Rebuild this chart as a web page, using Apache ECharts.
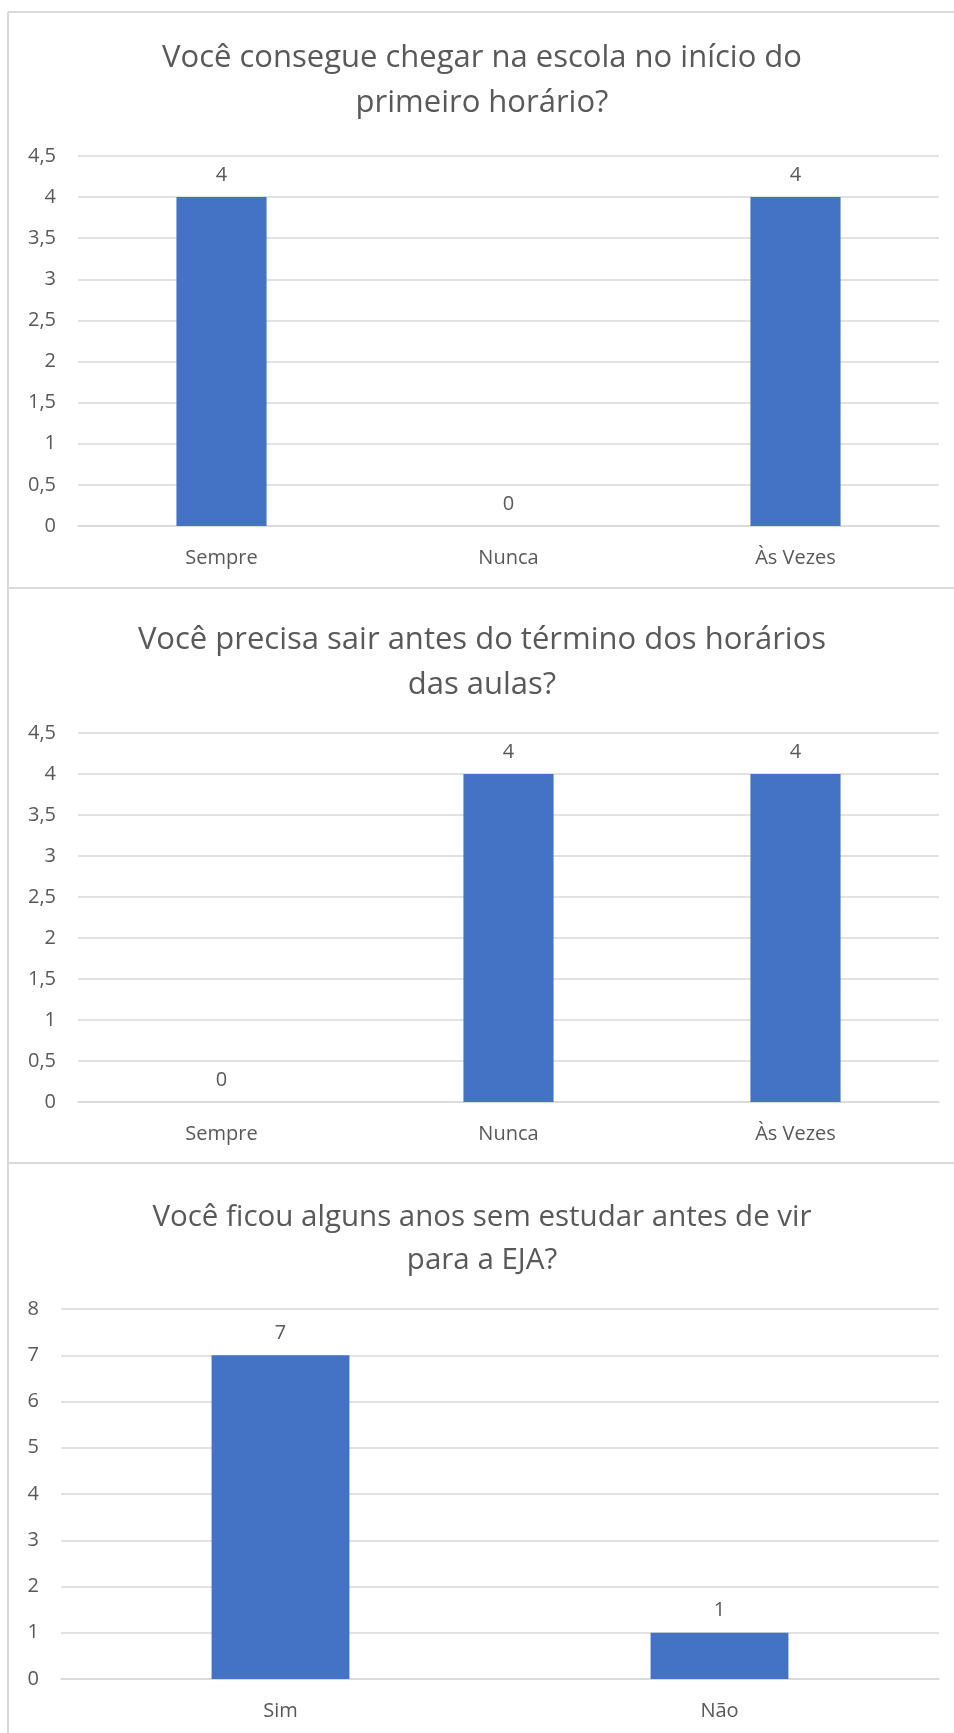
<!DOCTYPE html>
<html>
<head>
<meta charset="utf-8">
<script src="https://cdn.jsdelivr.net/npm/echarts@6/dist/echarts.min.js"></script>
<style>
  html, body { margin: 0; padding: 0; background: #ffffff; }
  #chart { width: 954px; height: 1733px; }
</style>
</head>
<body>
<div id="chart"></div>
<script>
// Survey answers, one bar chart per question
const titleArrival = 'Você consegue chegar na escola no início do\nprimeiro horário?';
const titleLeaving = 'Você precisa sair antes do término dos horários\ndas aulas?';
const titleGap = 'Você ficou alguns anos sem estudar antes de vir\npara a EJA?';

const frequencyCategories = ['Sempre', 'Nunca', 'Às Vezes'];
const arrivalValues = [4, 0, 4];
const leavingValues = [0, 4, 4];

const yesNoCategories = ['Sim', 'Não'];
const gapValues = [7, 1];

const FONT = '"Open Sans", "Noto Sans", sans-serif';
const TEXT = '#595959';
const GRID_LINE = '#d9d9d9';
const BAR = '#4472C4';

const decimalComma = v => String(v).replace('.', ',');

function makeTitle(text, top, size, lineHeight) {
  return {
    text: text,
    left: 477,
    top: top,
    textAlign: 'center',
    textStyle: {
      fontFamily: FONT, fontSize: size, fontWeight: 'normal',
      color: TEXT, lineHeight: lineHeight
    }
  };
}

function makeXAxis(idx, cats) {
  return {
    type: 'category', gridIndex: idx, data: cats,
    axisLine: { show: true, lineStyle: { color: GRID_LINE, width: 1.5 } },
    axisTick: { show: false },
    axisLabel: { fontFamily: FONT, fontSize: 20, color: TEXT, margin: 22 }
  };
}

function makeYAxis(idx, max, interval, fmt) {
  return {
    type: 'value', gridIndex: idx, min: 0, max: max, interval: interval,
    axisLine: { show: false }, axisTick: { show: false },
    splitLine: { lineStyle: { color: GRID_LINE, width: 1.5 } },
    axisLabel: { fontFamily: FONT, fontSize: 20, color: TEXT, margin: 22, formatter: fmt }
  };
}

function makeBars(idx, values) {
  return {
    type: 'bar', xAxisIndex: idx, yAxisIndex: idx, data: values,
    barWidth: '31.4%',
    itemStyle: { color: BAR },
    label: {
      show: true, position: 'top', distance: 12,
      fontFamily: FONT, fontSize: 20, color: TEXT
    }
  };
}

const chart = echarts.init(document.getElementById('chart'), null, { renderer: 'canvas' });

chart.setOption({
  backgroundColor: '#ffffff',
  animation: false,
  title: [
    makeTitle(titleArrival, 31, 31, 45),
    makeTitle(titleLeaving, 613, 31, 45),
    makeTitle(titleGap, 1191, 29.5, 43)
  ],
  grid: [
    { left: 78, right: 15, top: 156, height: 370 },
    { left: 78, right: 15, top: 733, height: 369 },
    { left: 61, right: 15, top: 1309, height: 370 }
  ],
  xAxis: [
    makeXAxis(0, frequencyCategories),
    makeXAxis(1, frequencyCategories),
    makeXAxis(2, yesNoCategories)
  ],
  yAxis: [
    makeYAxis(0, 4.5, 0.5, decimalComma),
    makeYAxis(1, 4.5, 0.5, decimalComma),
    makeYAxis(2, 8, 1, decimalComma)
  ],
  series: [
    makeBars(0, arrivalValues),
    makeBars(1, leavingValues),
    makeBars(2, gapValues)
  ],
  graphic: [
    // panel frame: left edge, top edge and the separators between panels
    { type: 'line', silent: true, shape: { x1: 8, y1: 12, x2: 8, y2: 1733 },
      style: { stroke: GRID_LINE, lineWidth: 2 } },
    { type: 'line', silent: true, shape: { x1: 8, y1: 12, x2: 954, y2: 12 },
      style: { stroke: GRID_LINE, lineWidth: 2 } },
    { type: 'line', silent: true, shape: { x1: 8, y1: 588, x2: 954, y2: 588 },
      style: { stroke: GRID_LINE, lineWidth: 2 } },
    { type: 'line', silent: true, shape: { x1: 8, y1: 1163, x2: 954, y2: 1163 },
      style: { stroke: GRID_LINE, lineWidth: 2 } }
  ]
});
</script>
</body>
</html>
